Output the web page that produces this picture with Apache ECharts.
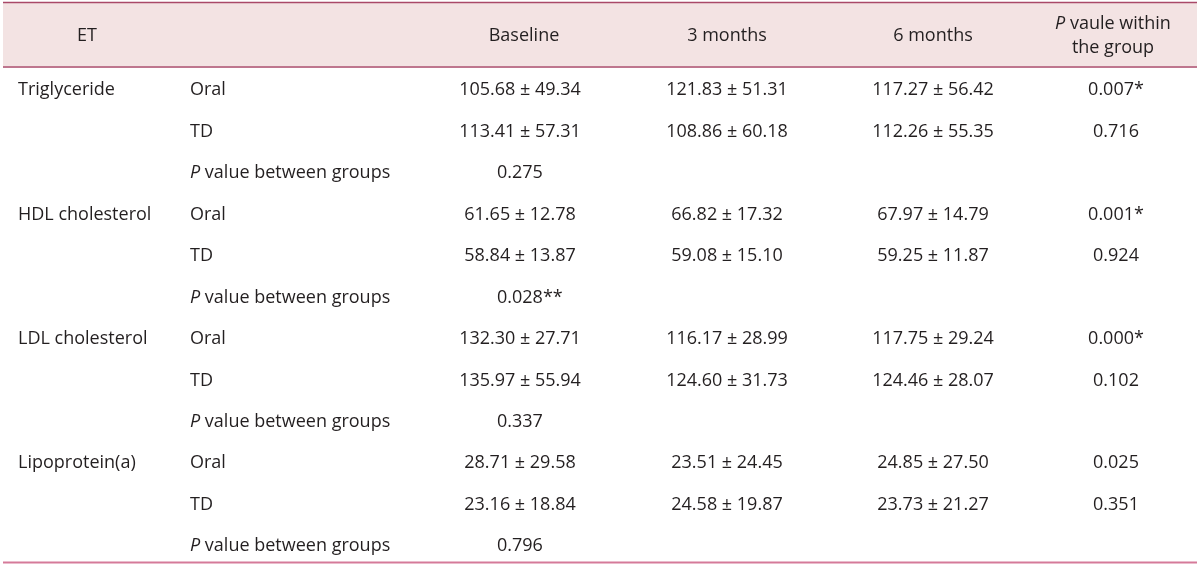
<!DOCTYPE html>
<html><head><meta charset="utf-8">
<script src="https://cdn.jsdelivr.net/npm/echarts@6/dist/echarts.min.js"></script>
<style>html,body{margin:0;padding:0;background:#fff}#c{width:1200px;height:567px}</style>
</head><body><div id="c"></div>
<script>
// ---- data ----
const headers = ['ET', '', 'Baseline', '3 months', '6 months', '{i|P} vaule within\nthe group'];
const measures = ['Triglyceride', 'HDL cholesterol', 'LDL cholesterol', 'Lipoprotein(a)'];
const groups = ['Oral', 'TD', '{i|P} value between groups'];
const baseline = [
  ['105.68 ± 49.34', '113.41 ± 57.31', '0.275'],
  ['61.65 ± 12.78', '58.84 ± 13.87', '0.028**'],
  ['132.30 ± 27.71', '135.97 ± 55.94', '0.337'],
  ['28.71 ± 29.58', '23.16 ± 18.84', '0.796']
];
const month3 = [
  ['121.83 ± 51.31', '108.86 ± 60.18'],
  ['66.82 ± 17.32', '59.08 ± 15.10'],
  ['116.17 ± 28.99', '124.60 ± 31.73'],
  ['23.51 ± 24.45', '24.58 ± 19.87']
];
const month6 = [
  ['117.27 ± 56.42', '112.26 ± 55.35'],
  ['67.97 ± 14.79', '59.25 ± 11.87'],
  ['117.75 ± 29.24', '124.46 ± 28.07'],
  ['24.85 ± 27.50', '23.73 ± 21.27']
];
const pWithin = [
  ['0.007*', '0.716'],
  ['0.001*', '0.924'],
  ['0.000*', '0.102'],
  ['0.025', '0.351']
];

// ---- layout / style ----
const FONT = '"Open Sans", "Noto Sans", sans-serif';
const FS = 18;
const TXT = '#231f20';
const COL_X = [18, 190, 520, 727, 933, 1116];
const COL_ALIGN = ['left', 'left', 'center', 'center', 'center', 'center'];
const P_BETWEEN_X = 497;   // p-values between groups are left-aligned
const HEAD_X = [87, 190, 524, 727, 933, 1113];

// build rows / cells
const rowNames = [];
const cells = [];
measures.forEach((m, mi) => {
  for (let g = 0; g < 3; g++) {
    const r = rowNames.length;
    rowNames.push(m + '-' + g);
    if (g === 0) cells.push({ c: 0, r, text: m });
    cells.push({ c: 1, r, text: groups[g] });
    cells.push({ c: 2, r, text: baseline[mi][g], pb: g === 2 });
    if (g < 2) {
      cells.push({ c: 3, r, text: month3[mi][g] });
      cells.push({ c: 4, r, text: month6[mi][g] });
      cells.push({ c: 5, r, text: pWithin[mi][g] });
    }
  }
});

const rich = { i: { fontStyle: 'italic', fontSize: FS, fontFamily: FONT, fill: TXT } };

const chart = echarts.init(document.getElementById('c'), null, { renderer: 'canvas' });
chart.setOption({
  animation: false,
  backgroundColor: '#ffffff',
  grid: { left: 0, right: 0, top: 69.5, height: 497.5 },
  xAxis: { type: 'value', min: 0, max: 1200, show: false },
  yAxis: { type: 'category', data: rowNames, inverse: true, show: false },
  graphic: [
    { type: 'rect', shape: { x: 3, y: 3, width: 1194, height: 63 }, style: { fill: '#f3e3e3' }, silent: true },
    { type: 'line', shape: { x1: 3, y1: 2.5, x2: 1197, y2: 2.5 }, style: { stroke: '#a94868', lineWidth: 1.6 } },
    { type: 'line', shape: { x1: 3, y1: 67, x2: 1197, y2: 67 }, style: { stroke: '#a94868', lineWidth: 1.6 } },
    { type: 'line', shape: { x1: 3, y1: 562.5, x2: 1197, y2: 562.5 }, style: { stroke: '#d57a99', lineWidth: 2 } }
  ].concat(headers.map((h, i) => ({
    type: 'text', x: HEAD_X[i], y: 36, z: 10,
    style: {
      text: h, fill: TXT, font: FS + 'px ' + FONT, align: 'center', verticalAlign: 'middle',
      lineHeight: 24, rich: rich
    }
  }))),
  series: [{
    type: 'custom',
    coordinateSystem: 'cartesian2d',
    data: cells.map(d => [d.c, d.r]),
    renderItem: function (params, api) {
      const d = cells[params.dataIndex];
      const xv = d.pb ? P_BETWEEN_X : COL_X[d.c];
      const p = api.coord([xv, d.r]);
      return {
        type: 'text', x: p[0], y: p[1],
        style: {
          text: d.text, fill: TXT, font: FS + 'px ' + FONT,
          align: d.pb ? 'left' : COL_ALIGN[d.c], verticalAlign: 'middle', rich: rich
        }
      };
    }
  }]
});
</script></body></html>
